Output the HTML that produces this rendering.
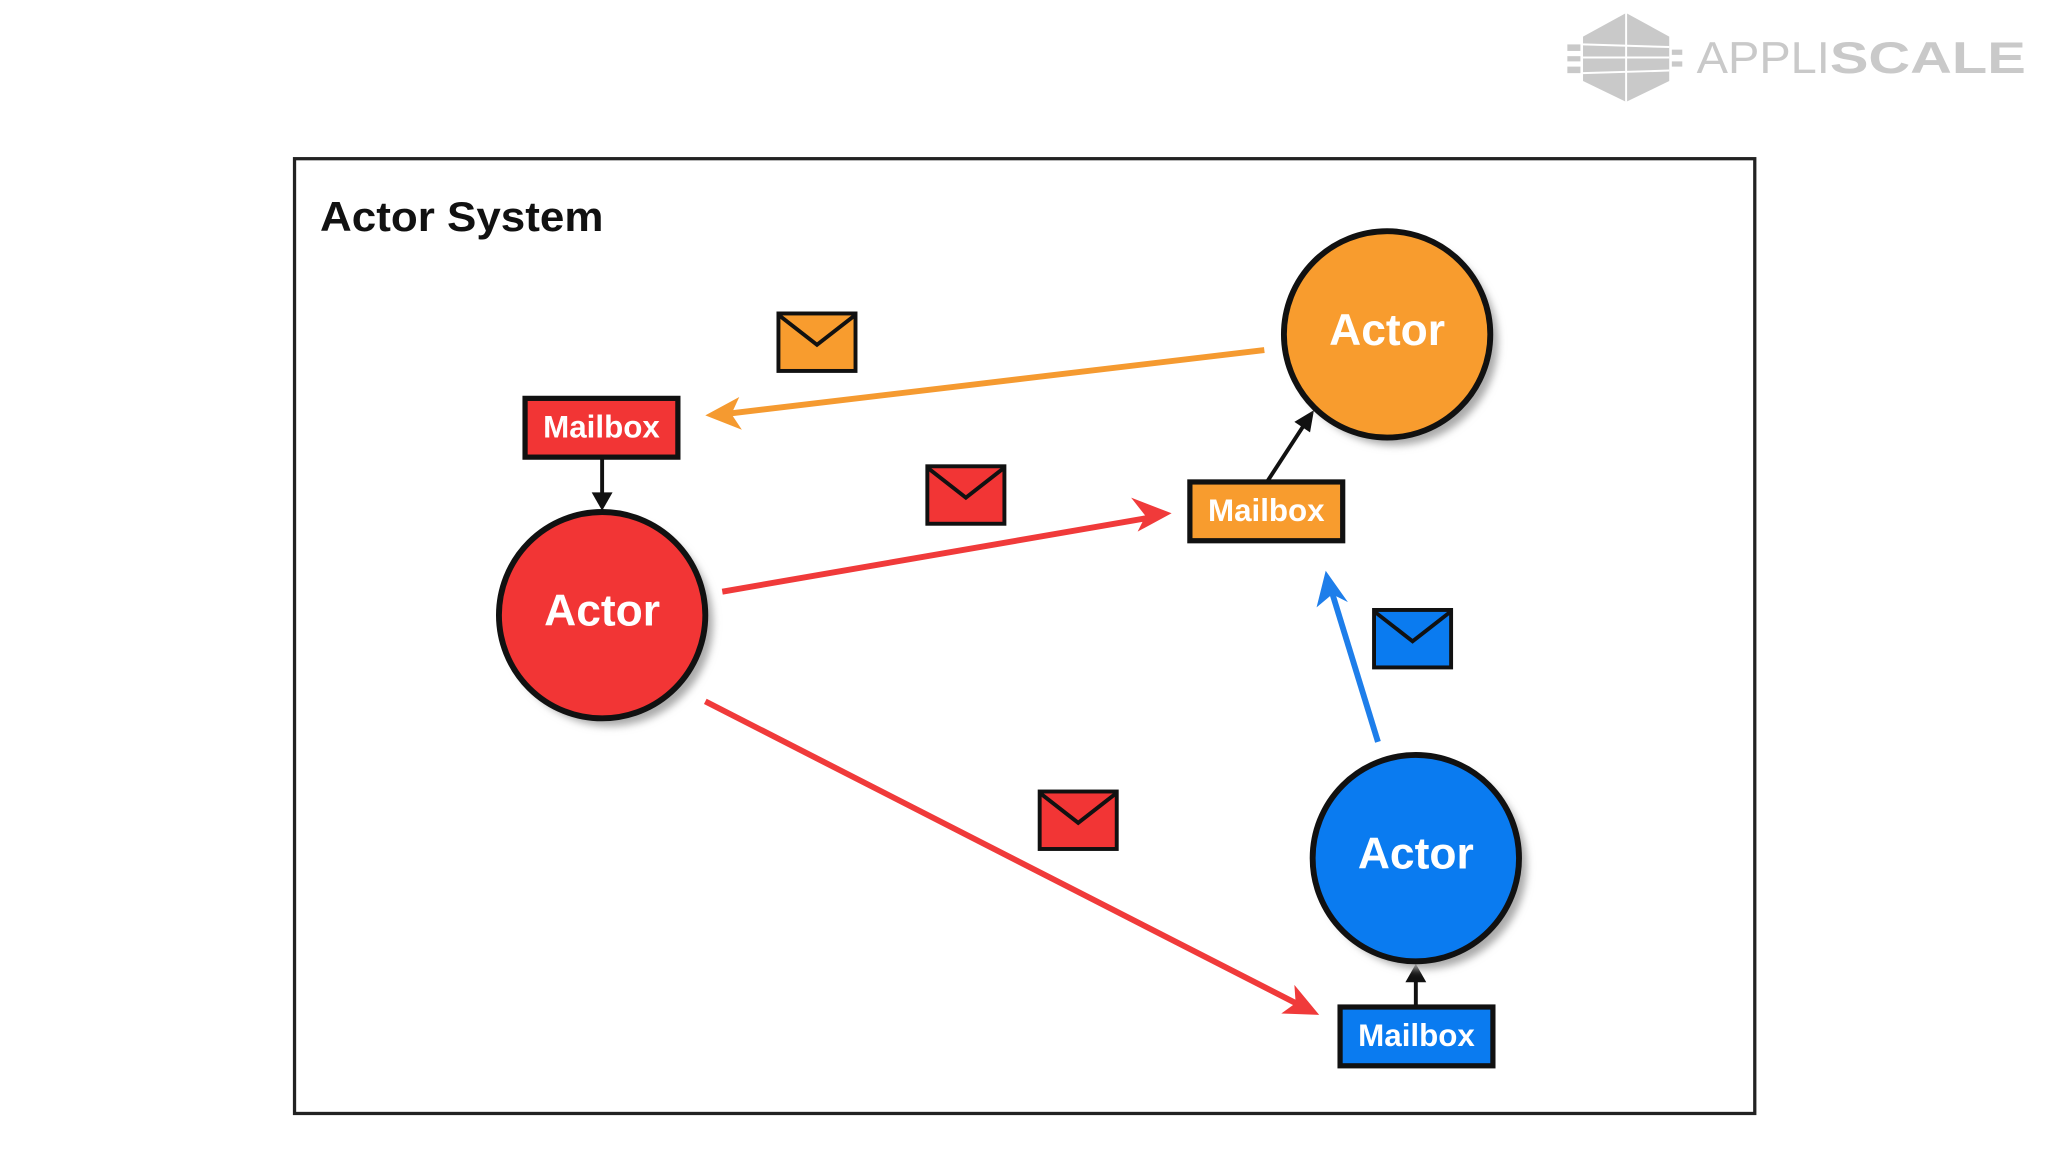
<!DOCTYPE html>
<html><head><meta charset="utf-8"><style>
html,body{margin:0;padding:0;background:#fff;width:2048px;height:1152px;overflow:hidden}
svg{display:block}
</style></head><body>
<svg width="2048" height="1152" viewBox="0 0 1568 882" preserveAspectRatio="none" xmlns="http://www.w3.org/2000/svg" font-family="Liberation Sans, Arial, sans-serif">
<defs>
<filter id="sh" x="-30%" y="-30%" width="160%" height="160%"><feGaussianBlur stdDeviation="3"/></filter>
</defs>
<!-- logo -->
<g fill="#c9c9c9">
<polygon points="1245,10 1278,28 1278,62 1245,78 1212,62 1212,28"/>
<rect x="1200" y="34" width="10" height="5"/><rect x="1200" y="43" width="10" height="4"/><rect x="1200" y="51" width="10" height="5"/>
<rect x="1280" y="38" width="8" height="4"/><rect x="1280" y="47" width="8" height="4"/>
<g stroke="#fff" stroke-width="1.5"><line x1="1245" y1="10" x2="1245" y2="78"/><line x1="1212" y1="34" x2="1278" y2="36"/><line x1="1212" y1="44" x2="1278" y2="44"/><line x1="1212" y1="56" x2="1278" y2="54"/></g>
<text x="1299" y="56" font-size="34" fill="#c9c9c9" font-weight="normal" textLength="102" lengthAdjust="spacingAndGlyphs">APPLI</text>
<text x="1401" y="56" font-size="34" font-weight="bold" fill="#c9c9c9" textLength="150" lengthAdjust="spacingAndGlyphs">SCALE</text>
</g>
<!-- frame -->
<rect x="225.5" y="121.5" width="1118" height="731" fill="none" stroke="#222" stroke-width="2.5"/>
<text x="245" y="177" font-size="32" font-weight="bold" fill="#111" textLength="217" lengthAdjust="spacingAndGlyphs">Actor System</text>
<!-- arrows -->
<g stroke-width="4.5" fill="none">
<line x1="968" y1="268" x2="555" y2="317" stroke="#F59A30"/>
<line x1="553" y1="453" x2="882" y2="396" stroke="#F03A3A"/>
<line x1="540" y1="537" x2="996" y2="770" stroke="#F03A3A"/>
<line x1="1055" y1="568" x2="1019" y2="451" stroke="#1E7EEA"/>
</g>
<polygon points="540,318 566,304 560,317 568,329" fill="#F59A30"/>
<polygon points="897,393 871,407 877,395 866,381" fill="#F03A3A"/>
<polygon points="1010,777 981,776 992,768 991,754" fill="#F03A3A"/>
<polygon points="1015,437 1032,461 1020,455 1008,465" fill="#1E7EEA"/>
<g stroke="#111" stroke-width="3">
<line x1="461" y1="350" x2="461" y2="380"/>
<line x1="970" y1="369" x2="998" y2="326"/>
<line x1="1084" y1="771" x2="1084" y2="750"/>
</g>
<polygon points="461,391 453,377 469,377" fill="#111"/>
<polygon points="1006,314 1003,331 991,323" fill="#111"/>
<polygon points="1084,738 1092,752 1076,752" fill="#111"/>
<!-- actors -->
<g>
<circle cx="1068" cy="262" r="79" fill="#aaa" filter="url(#sh)"/>
<circle cx="1062" cy="256" r="79" fill="#F89C2E" stroke="#111" stroke-width="4.5"/>
<circle cx="467" cy="477" r="79" fill="#aaa" filter="url(#sh)"/>
<circle cx="461" cy="471" r="79" fill="#F23535" stroke="#111" stroke-width="4.5"/>
<circle cx="1090" cy="663" r="79" fill="#aaa" filter="url(#sh)"/>
<circle cx="1084" cy="657" r="79" fill="#0A7BF0" stroke="#111" stroke-width="4.5"/>
</g>
<g font-size="34" font-weight="bold" fill="#fff" text-anchor="middle">
<text x="1062" y="264">Actor</text>
<text x="461" y="479">Actor</text>
<text x="1084" y="665">Actor</text>
</g>
<!-- mailboxes -->
<g stroke="#111" stroke-width="4">
<rect x="402" y="305" width="117" height="45" fill="#F23535"/>
<rect x="911" y="369" width="117" height="45" fill="#F89C2E"/>
<rect x="1026" y="771" width="117" height="45" fill="#0A7BF0"/>
</g>
<g font-size="24" font-weight="bold" fill="#fff" text-anchor="middle">
<text x="460.5" y="335">Mailbox</text>
<text x="969.5" y="399">Mailbox</text>
<text x="1084.5" y="801">Mailbox</text>
</g>
<!-- envelopes -->
<g stroke="#111" stroke-width="3" stroke-linejoin="miter">
<rect x="596" y="240" width="59" height="44" fill="#F89C2E"/><polyline points="596,241 625.5,264 655,241" fill="none"/>
<rect x="710" y="357" width="59" height="44" fill="#F23535"/><polyline points="710,358 739.5,381 769,358" fill="none"/>
<rect x="1052" y="467" width="59" height="44" fill="#0A7BF0"/><polyline points="1052,468 1081.5,491 1111,468" fill="none"/>
<rect x="796" y="606" width="59" height="44" fill="#F23535"/><polyline points="796,607 825.5,630 855,607" fill="none"/>
</g>
</svg>
</body></html>
